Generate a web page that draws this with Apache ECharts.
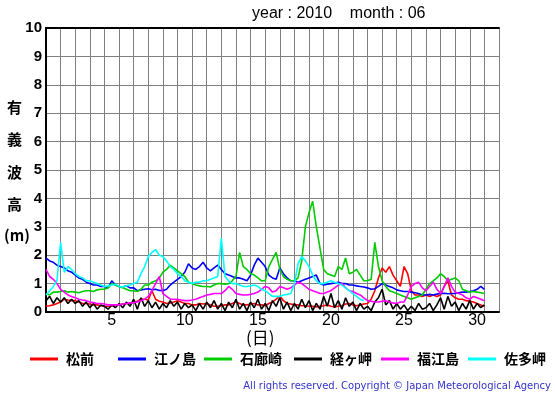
<!DOCTYPE html>
<html>
<head>
<meta charset="utf-8">
<script src="https://cdn.jsdelivr.net/npm/echarts@6/dist/echarts.min.js"></script>
<style>html,body{margin:0;padding:0;background:#fff}#c{width:555px;height:395px}</style>
</head>
<body>
<div id="c"></div>
<script>
// Station names (legend)
const stations = ['松前', '江ノ島', '石廊崎', '経ヶ岬', '福江島', '佐多岬'];
const colors = ['#ff0000', '#0000ff', '#00cc00', '#000000', '#ff00ff', '#00ffff'];
// Day labels for the x axis (one category per day band)
const dayLabels = ['1','2','3','4','5','6','7','8','9','10','11','12','13','14','15','16','17','18','19','20','21','22','23','24','25','26','27','28','29','30','31'];
// Sampling step of the series values (days)
const stepDays = 0.25;

// Significant wave height (m), every 6 hours from 1 June 00:00
const matsumae = [
0.2,0.22,0.25,0.3, 0.35,0.45,0.42,0.4, 0.4,0.35,0.3,0.3, 0.28,0.25,0.25,0.22,
0.2,0.2,0.22,0.25, 0.25,0.28,0.3,0.3, 0.35,0.38,0.45,0.45, 0.42,0.75,0.45,0.38,
0.35,0.3,0.32,0.35, 0.4,0.35,0.3,0.3, 0.25,0.25,0.3,0.28, 0.3,0.25,0.2,0.2,
0.22,0.25,0.25,0.3, 0.35,0.3,0.25,0.25, 0.28,0.3,0.25,0.25, 0.22,0.3,0.35,0.45,
0.55,0.4,0.3,0.28, 0.25,0.25,0.22,0.22, 0.2,0.2,0.18,0.2, 0.22,0.25,0.2,0.18,
0.2,0.22,0.28,0.3, 0.25,0.22,0.25,0.28, 0.3,0.45,0.75,1.2, 1.55,1.4,1.6,1.3,
1.1,0.9,1.6,1.35, 0.75,0.6,0.6,0.55, 0.6,0.55,0.6,0.55, 0.6,0.9,1.1,0.6,
0.5,0.45,0.45,0.4, 0.38,0.35,0.3,0.25, 0.2];
const enoshima = [
1.9,1.8,1.75,1.65, 1.6,1.55,1.45,1.4, 1.3,1.2,1.15,1.05, 1.0,0.95,0.95,0.9,
0.9,0.85,1.1,0.95, 0.9,0.88,0.92,0.85, 0.85,0.75,0.78,0.8, 0.82,0.78,0.8,0.76,
0.75,0.8,0.95,1.05, 1.15,1.25,1.4,1.7, 1.55,1.5,1.6,1.75, 1.55,1.45,1.55,1.65,
1.5,1.35,1.3,1.25, 1.2,1.2,1.15,1.1, 1.3,1.65,1.9,1.75, 1.6,1.3,1.2,1.15,
1.55,1.35,1.2,1.1, 1.1,1.05,1.1,1.15, 1.2,1.25,1.3,1.0, 0.95,0.98,1.0,1.02,
1.05,1.0,1.0,0.95, 0.95,0.92,0.9,0.88, 0.85,0.8,0.82,0.9, 1.0,0.95,0.9,0.85,
0.78,0.75,0.72,0.72, 0.7,0.68,0.65,0.6, 0.6,0.62,0.6,0.63, 0.65,0.66,0.64,0.65,
0.65,0.68,0.7,0.7, 0.72,0.75,0.8,0.9, 0.8];
const irozaki = [
0.65,0.6,0.7,0.7, 0.72,0.75,0.7,0.72, 0.7,0.68,0.72,0.75, 0.75,0.72,0.78,0.8,
0.8,0.85,1.0,0.95, 0.9,0.85,0.8,0.75, 0.75,0.72,0.8,0.95, 0.95,1.05,1.1,1.2,
1.4,1.5,1.65,1.55, 1.45,1.35,1.25,1.05, 1.0,0.95,0.92,0.9, 0.9,0.88,0.95,1.0,
1.0,0.98,1.0,1.1, 1.25,2.1,1.6,1.5, 1.35,1.3,1.2,1.1, 1.1,1.6,1.85,2.1,
1.5,1.25,1.15,1.1, 1.1,1.2,1.8,3.0, 3.5,3.9,3.0,2.25, 1.5,1.35,1.3,1.25,
1.6,1.5,1.9,1.35, 1.4,1.5,1.3,1.1, 1.1,1.15,2.45,1.6, 1.1,0.9,0.75,0.7,
0.65,0.6,0.55,0.5, 0.45,0.5,0.55,0.6, 0.8,1.0,1.1,1.2, 1.35,1.25,1.1,1.15,
1.2,1.1,0.8,0.75, 0.7,0.72,0.7,0.68, 0.65];
const kyogamisaki = [
0.4,0.55,0.3,0.5, 0.35,0.5,0.3,0.45, 0.3,0.4,0.2,0.35, 0.15,0.3,0.1,0.25,
0.2,0.1,0.25,0.15, 0.3,0.15,0.35,0.2, 0.45,0.1,0.5,0.2, 0.4,0.15,0.35,0.1,
0.3,0.15,0.4,0.2, 0.35,0.1,0.3,0.15, 0.25,0.05,0.3,0.1, 0.35,0.15,0.4,0.1,
0.3,0.05,0.35,0.15, 0.45,0.1,0.3,0.05, 0.35,0.15,0.45,0.1, 0.3,0.05,0.4,0.2,
0.5,0.1,0.35,0.05, 0.3,0.1,0.45,0.15, 0.4,0.05,0.3,0.1, 0.55,0.2,0.65,0.15,
0.4,0.1,0.5,0.2, 0.35,0.05,0.3,0.1, 0.2,0.05,0.35,0.5, 0.8,0.25,0.4,0.1,
0.3,0.1,0.25,0.05, 0.2,0.05,0.3,0.1, 0.15,0.3,0.05,0.25, 0.5,0.1,0.55,0.2,
0.35,0.05,0.3,0.1, 0.4,0.1,0.3,0.15, 0.25];
const fukuejima = [
1.5,1.25,1.15,1.0, 0.8,0.7,0.6,0.55, 0.5,0.45,0.42,0.4, 0.35,0.33,0.3,0.3,
0.28,0.25,0.25,0.25, 0.25,0.28,0.3,0.32, 0.33,0.35,0.4,0.45, 0.55,0.75,1.0,1.25,
0.65,0.55,0.45,0.45, 0.45,0.42,0.4,0.4, 0.42,0.45,0.5,0.55, 0.6,0.62,0.65,0.65,
0.65,0.75,0.9,0.8, 0.65,0.62,0.6,0.6, 0.62,0.65,0.7,0.8, 0.9,0.85,0.7,0.75,
0.9,0.85,0.8,0.85, 0.95,1.05,1.0,0.9, 0.8,0.75,0.7,0.65, 0.65,0.7,0.75,0.85,
0.95,1.0,0.85,0.75, 0.72,0.65,0.6,0.5, 0.4,0.38,0.35,0.35, 0.38,0.4,0.35,0.32,
0.3,0.35,0.35,0.6, 0.9,1.0,1.05,0.85, 0.75,0.9,1.05,0.8, 0.65,0.9,1.2,0.9,
0.7,0.65,0.6,0.5, 0.45,0.55,0.5,0.45, 0.4];
const satamisaki = [
0.6,0.75,0.9,1.1, 2.45,1.4,1.6,1.5, 1.35,1.25,1.2,1.1, 1.1,1.05,1.0,0.95,
0.9,0.92,0.95,0.98, 0.9,0.88,0.92,0.95, 1.0,1.05,1.35,1.6, 1.95,2.1,2.2,2.0,
1.95,1.8,1.6,1.5, 1.35,1.25,1.1,1.05, 1.0,1.05,1.05,1.1, 1.1,1.15,1.2,1.25,
2.6,1.25,1.1,1.0, 1.0,0.95,0.9,0.9, 0.92,0.95,0.9,0.8, 0.75,0.65,0.55,0.55,
0.55,0.6,0.62,0.65, 1.0,1.7,1.95,1.8, 1.6,1.3,1.1,1.0, 1.0,1.05,1.1,1.05,
1.0,0.95,0.85,0.75, 0.65,0.55,0.45,0.4];

const seriesValues = [matsumae, enoshima, irozaki, kyogamisaki, fukuejima, satamisaki];

const chart = echarts.init(document.getElementById('c'));
const legendLeft = [25, 113, 199, 289, 376, 463];

const series = stations.map((name, k) => ({
  name: name,
  type: 'line',
  xAxisIndex: 0,
  yAxisIndex: 0,
  showSymbol: false,
  symbol: 'none',
  animation: false,
  lineStyle: { color: colors[k], width: 1.6 },
  itemStyle: { color: colors[k] },
  data: seriesValues[k].map((v, i) => [i * stepDays, v])
}));

const legends = stations.map((name, k) => ({
  data: [name],
  left: legendLeft[k],
  top: 347,
  icon: 'rect',
  itemWidth: 28,
  itemHeight: 3,
  selectedMode: false,
  textStyle: { color: '#000', fontSize: 14, fontWeight: 'bold', fontFamily: 'Noto Sans CJK JP', padding: [0, 0, 0, 3] }
}));

const yTitle = ['有', '義', '波', '高', '(m)'];
const yTitleTop = [100, 132, 165, 197, 228];

chart.setOption({
  animation: false,
  backgroundColor: '#fff',
  grid: { left: 46, right: 56, top: 28, bottom: 83, containLabel: false },
  xAxis: [
    { type: 'value', min: 0, max: 31, interval: 1, position: 'bottom',
      axisLine: { show: true, lineStyle: { color: '#000', width: 2 } },
      axisTick: { show: false }, axisLabel: { show: false },
      splitLine: { show: true, lineStyle: { color: '#808080', width: 1 } } },
    { type: 'category', data: dayLabels, boundaryGap: true, position: 'bottom',
      axisLine: { show: false }, axisTick: { show: false }, splitLine: { show: false },
      axisLabel: { interval: (i) => (i + 1) % 5 === 0, color: '#000', fontSize: 16,
        fontFamily: 'Liberation Sans', margin: 1 } },
    { type: 'value', min: 0, max: 31, position: 'top',
      axisLine: { show: true, lineStyle: { color: '#000', width: 2 } },
      axisTick: { show: false }, axisLabel: { show: false }, splitLine: { show: false } }
  ],
  yAxis: [
    { type: 'value', min: 0, max: 10, interval: 1, position: 'left',
      axisLine: { show: true, lineStyle: { color: '#000', width: 2 } },
      axisTick: { show: false },
      axisLabel: { color: '#000', fontSize: 15, fontWeight: 'bold', fontFamily: 'Liberation Sans', margin: 4 },
      splitLine: { show: true, lineStyle: { color: '#808080', width: 1 } } },
    { type: 'value', min: 0, max: 10, position: 'right',
      axisLine: { show: true, lineStyle: { color: '#000', width: 2 } },
      axisTick: { show: false }, axisLabel: { show: false }, splitLine: { show: false } }
  ],
  legend: legends,
  series: series,
  graphic: [
    { type: 'text', left: 252, top: 6, style: {
        text: 'year : 2010    month : 06',
        fontSize: 16, fontFamily: 'Liberation Sans', fill: '#000' } },
    ...yTitle.map((s, i) => ({ type: 'text', left: s.length > 1 ? 4 : 7, top: yTitleTop[i],
      style: { text: s, fontSize: 15, fontWeight: 'bold', fontFamily: 'Noto Sans CJK JP', fill: '#000' } })),
    { type: 'text', left: 246, top: 329, style: { text: '(日)', fontSize: 17, fontFamily: 'Noto Sans CJK JP', fill: '#000' } },
    { type: 'text', right: 4, top: 381, style: {
        text: 'All rights reserved. Copyright © Japan Meteorological Agency',
        fontSize: 10, fontFamily: 'DejaVu Sans', fill: '#3333cc' } }
  ]
});
</script>
</body>
</html>
